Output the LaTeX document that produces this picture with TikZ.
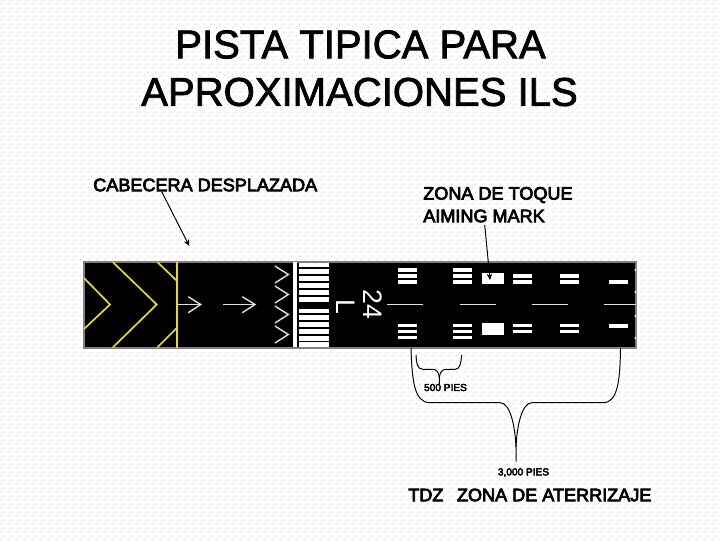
\documentclass[tikz,border=0pt]{standalone}
\usepackage{fontspec}
\setmainfont{Liberation Sans}
\newfontfamily\labelfont[FakeBold=4]{Liberation Sans}
\newfontfamily\titlefont[FakeBold=2]{Liberation Sans}
\usetikzlibrary{arrows.meta,positioning,patterns}
\pgfdeclarepatternformonly{sitedots}{\pgfqpoint{0pt}{0pt}}{\pgfqpoint{5.69pt}{5.69pt}}{\pgfqpoint{5.69pt}{5.69pt}}{
  \pgfpathrectangle{\pgfqpoint{0.7pt}{0.7pt}}{\pgfqpoint{0.6pt}{0.6pt}}
  \pgfpathrectangle{\pgfqpoint{3.55pt}{3.55pt}}{\pgfqpoint{0.6pt}{0.6pt}}
  \pgfusepath{fill}
}
\tikzset{
  titletext/.style={inner sep=0pt,font=\titlefont\fontsize{28.5}{34}\selectfont,text=black},
  bigtext/.style={inner sep=0pt,anchor=west,font=\labelfont\fontsize{12.85}{15}\selectfont,text=black},
  smalltext/.style={inner sep=0pt,font=\labelfont\fontsize{7.2}{9}\selectfont,text=black},
  runwaybox/.style={rectangle,draw=black!50,fill=black,line width=1.2pt,inner sep=0pt,
    minimum width=13.79cm,minimum height=2.15cm},
  marktext/.style={inner sep=0pt,rotate=-90,text=white,font=\fontsize{19}{22}\selectfont},
  aimblock/.style={rectangle,fill=white,inner sep=0pt,minimum width=0.56cm,minimum height=0.29cm},
  paint/.style={black!12,line width=1pt},
  yellowline/.style={yellow!90!black,line width=1.2pt},
  arrow/.style={-{Stealth[length=4.5pt,width=4pt]},line width=0.7pt},
  bracket/.style={black,line width=0.7pt},
}
\begin{document}
\begin{tikzpicture}[x=0.025cm,y=-0.025cm]
  \useasboundingbox (0,0) rectangle (720,540);

  %% ── Dotted background ─────────────────────────────────────────────────────
  \fill[white] (0,0) rectangle (720,540);
  \fill[pattern=sitedots,pattern color=black!35] (0,0) rectangle (720,540);

  %% ── Titles and labels ─────────────────────────────────────────────────────
  \node[titletext] (title1) at (360.5,44.5) {PISTA TIPICA PARA};
  \node[titletext] (title2) at (359.5,92) {APROXIMACIONES ILS};
  \node[bigtext] (cabecera) at (93,185) {CABECERA DESPLAZADA};
  \node[bigtext] (zona)     at (423,195) {ZONA DE TOQUE};
  \node[bigtext] (aiming)   at (423,216) {AIMING MARK};
  \node[bigtext] (tdz)      at (408,495) {TDZ\hspace{0.75em}ZONA DE ATERRIZAJE};

  %% ── Runway ────────────────────────────────────────────────────────────────
  \node[runwaybox] (runway) at (360,304.7) {};
  \foreach \ny in {270,292,316,338} {
    \fill[white] (635.5,\ny) circle (1.2);
  }

  %% ── Displaced threshold: yellow chevrons ──────────────────────────────────
  \draw[yellowline] (176.7,262) -- (176.7,347.5);
  \draw[yellowline] (84,278) -- (110,304.5) -- (84,329);
  \draw[yellowline] (112.7,262) -- (156.7,304.5) -- (112.7,347.5);
  \draw[yellowline] (157.3,262) -- (176.7,280.7);
  \draw[yellowline] (157.3,347.5) -- (176.7,328);

  %% ── Displaced threshold: white arrows ─────────────────────────────────────
  \draw[paint] (177,304.5) -- (200.7,304.5);
  \draw[paint] (188.3,296.7) -- (200.7,304.5) -- (188.3,312.7);
  \draw[paint] (222.7,304.5) -- (255,304.5);
  \draw[paint] (242.3,296.7) -- (255,304.5) -- (242.3,312.7);
  \foreach \cy in {266,286,306,326} {
    \draw[paint] (275,\cy) -- (288.3,\cy+8.5) -- (275,\cy+17);
  }

  %% ── Threshold bars ────────────────────────────────────────────────────────
  \fill[white] (293.3,262) rectangle (297.3,347);
  \foreach \by in {262.5,269.4,276.3,283.2,290.1,297} {
    \fill[white] (299.3,\by) rectangle (329.3,\by+4.7);
  }
  \foreach \by in {308.5,315.4,322.3,329.2,336.1,342} {
    \fill[white] (299.3,\by) rectangle (329.3,\by+4.7);
  }

  %% ── Runway number ─────────────────────────────────────────────────────────
  \node[marktext] (num) at (372.5,304.5) {24};
  \node[marktext] (side) at (346,306.5) {L};

  %% ── Centre line ───────────────────────────────────────────────────────────
  \foreach \dx/\dw in {387.3/36,459.7/36,531.7/36,603.7/32} {
    \draw[paint,line width=0.7pt] (\dx,304.5) -- +(\dw,0);
  }

  %% ── Touchdown zone bars ───────────────────────────────────────────────────
  \foreach \sx in {398.3,453} {
    \foreach \sy in {268.3,274.2,280.4,324,330,336} {
      \fill[white] (\sx,\sy) rectangle (\sx+18.7,\sy+3.4);
    }
  }
  \foreach \sx in {513.3,560.3} {
    \foreach \sy in {274.4,280.4,324,330} {
      \fill[white] (\sx,\sy) rectangle (\sx+18.7,\sy+3.4);
    }
  }
  \foreach \sy in {280.4,324} {
    \fill[white] (609,\sy) rectangle (627.7,\sy+3.6);
  }

  %% ── Aiming point ──────────────────────────────────────────────────────────
  \node[aimblock] (aimtop) at (492.8,278.5) {};
  \node[aimblock] (aimbot) at (492.8,329.2) {};

  %% ── Arrows ────────────────────────────────────────────────────────────────
  \coordinate (thr) at (189.3,246);
  \coordinate (cabstart) at (161.7,191.7);
  \coordinate (aimstart) at (484.7,225);
  \coordinate (aimtip) at (490,280);
  \draw[arrow] (cabstart) -- (thr);
  \draw[arrow] (aimstart) -- (aimtip);

  %% ── Braces ────────────────────────────────────────────────────────────────
  \node[smalltext] (pies500)  at (445.5,387.5) {500 PIES};
  \node[smalltext] (pies3000) at (523.5,472.5) {3,000 PIES};
  \coordinate (tip500) at (439.3,378);
  \coordinate (tip3000) at (516,447);
  \draw[bracket] (416,355) .. controls (416.5,363) and (417,369.3) .. (423,369.3)
    -- (433,369.3) .. controls (437,369.3) and (439,373) .. (tip500)
    -- (439.3,384);
  \draw[bracket] (461.7,355) .. controls (461,363) and (460,369.3) .. (455,369.3)
    -- (446,369.3) .. controls (442,369.3) and (439.6,373) .. (tip500);
  \draw[bracket] (411,348) .. controls (412,380) and (414,402.7) .. (430,402.7)
    -- (500,402.7) .. controls (510,402.7) and (515,425) .. (tip3000)
    -- (516,461.7);
  \draw[bracket] (620.5,348) .. controls (620,380) and (618,402.7) .. (603,402.7)
    -- (532,402.7) .. controls (522,402.7) and (517,425) .. (tip3000);
\end{tikzpicture}
\end{document}
